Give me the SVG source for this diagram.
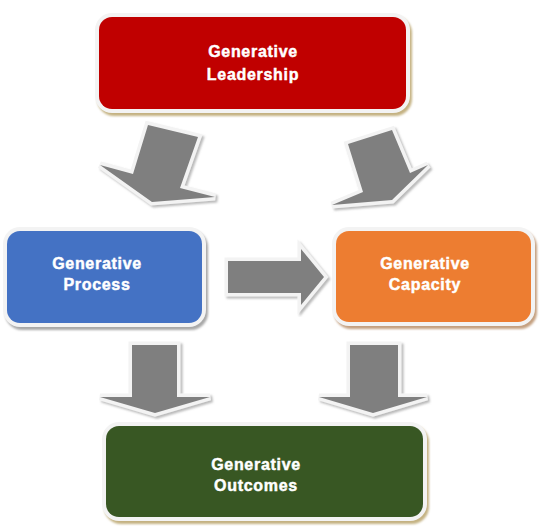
<svg xmlns="http://www.w3.org/2000/svg" width="541" height="529" viewBox="0 0 541 529">
  <style>
    .frame { fill: #f3f3f3; }
    .label { font-family: "Liberation Sans", Arial, sans-serif; font-weight: bold; font-size: 16px; fill: #ffffff; stroke: #ffffff; stroke-width: 0.45px; text-anchor: middle; letter-spacing: 0.7px; }
    .arrow { fill: #7f7f7f; stroke: #f3f3f3; stroke-width: 7; stroke-linejoin: miter; stroke-miterlimit: 3; paint-order: stroke; filter: url(#ashadow); }
  </style>
  <defs>
    <filter id="blur" x="-10%" y="-10%" width="120%" height="120%">
      <feGaussianBlur stdDeviation="1"/>
    </filter>
    <filter id="ashadow" x="-20%" y="-20%" width="140%" height="140%">
      <feDropShadow dx="2" dy="2" stdDeviation="1" flood-color="#8c8c8c" flood-opacity="0.6"/>
    </filter>
  </defs>
  <rect width="541" height="529" fill="#ffffff"/>

  <g id="connectors">
    <polygon class="arrow" points="148,125 198,137 180,188 215,197 152,202 100,165 133,174"/>
    <polygon class="arrow" points="348,144 392,130 410,173 428,165 392,200 332,205 363,192"/>
    <polygon class="arrow" points="228,261 301,261 301,249 324,277 301,305 301,293 228,293"/>
    <polygon class="arrow" points="132,345 177,345 177,397 210,397 155,413 100,397 132,397"/>
    <polygon class="arrow" points="350,345 398,345 398,397 427,397 373,413 319,397 350,397"/>
  </g>

  <g id="leadership">
    <rect x="97" y="16" width="315" height="100" rx="17" fill="#c4b282" filter="url(#blur)"/>
    <rect class="frame" x="95" y="13" width="315" height="100" rx="17"/>
    <rect x="99" y="17" width="307" height="92" rx="13" fill="#c00000"/>
    <text class="label" x="253" y="57">Generative</text>
    <text class="label" x="253" y="80">Leadership</text>
  </g>

  <g id="process">
    <rect x="5" y="230" width="203" height="100" rx="17" fill="#a8a8a8" filter="url(#blur)"/>
    <rect class="frame" x="3" y="227" width="203" height="100" rx="17"/>
    <rect x="7" y="231" width="195" height="92" rx="13" fill="#4472c4"/>
    <text class="label" x="97" y="269">Generative</text>
    <text class="label" x="97" y="290">Process</text>
  </g>

  <g id="capacity">
    <rect x="334" y="230" width="203" height="99" rx="17" fill="#c4a080" filter="url(#blur)"/>
    <rect class="frame" x="332" y="227" width="203" height="99" rx="17"/>
    <rect x="336" y="231" width="195" height="91" rx="13" fill="#ed7d31"/>
    <text class="label" x="425" y="269">Generative</text>
    <text class="label" x="425" y="290">Capacity</text>
  </g>

  <g id="outcomes">
    <rect x="104" y="425" width="325" height="99" rx="17" fill="#c4b282" filter="url(#blur)"/>
    <rect class="frame" x="102" y="422" width="325" height="99" rx="17"/>
    <rect x="106" y="426" width="317" height="91" rx="13" fill="#385723"/>
    <text class="label" x="256" y="470">Generative</text>
    <text class="label" x="256" y="491">Outcomes</text>
  </g>
</svg>
